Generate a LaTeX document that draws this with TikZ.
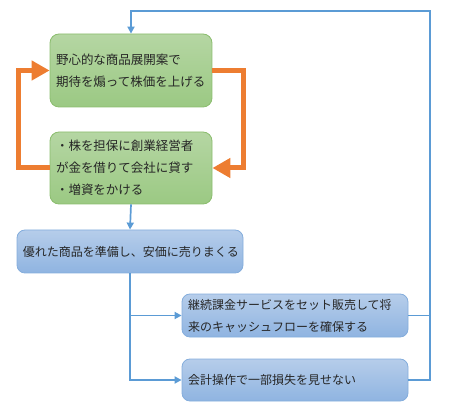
\documentclass[tikz,border=0pt]{standalone}
\usepackage{fontspec}
\setmainfont{Noto Sans CJK JP}
\usetikzlibrary{arrows.meta,shadings,positioning}
\definecolor{gtop}{HTML}{B5D6A3}
\definecolor{gbot}{HTML}{9BC983}
\definecolor{gbrd}{HTML}{8BBD6E}
\definecolor{btop}{HTML}{B6CDEA}
\definecolor{bbot}{HTML}{8FB4E1}
\definecolor{bbrd}{HTML}{84ADDC}
\definecolor{bline}{HTML}{5B9BD5}
\definecolor{oline}{HTML}{ED7D31}
\definecolor{txt}{HTML}{262626}
\tikzset{
  gbox/.style={draw=gbrd, line width=0.8pt, rounded corners=9pt, top color=gtop, bottom color=gbot,
    align=left, anchor=center, inner xsep=6pt, inner ysep=0pt, text=txt, font=\fontsize{12.5pt}{22pt}\selectfont},
  bbox/.style={draw=bbrd, line width=0.8pt, rounded corners=8pt, top color=btop, bottom color=bbot,
    align=left, anchor=center, inner xsep=6pt, inner ysep=0pt, text=txt, font=\fontsize{12pt}{22pt}\selectfont},
  bconn/.style={draw=bline, line width=1.7pt},
  barrow/.style={bconn, -{Triangle[length=7pt,width=7pt]}},
  oarrow/.style={draw=oline, line width=5pt, -{Triangle[length=18pt,width=19pt]}},
}
\begin{document}
\begin{tikzpicture}[x=1pt,y=1pt]
\useasboundingbox (0,0) rectangle (450,-414);
\node[gbox, minimum width=162pt, minimum height=73pt, text width=150pt] (b1) at (131,-70.5)
  {野心的な商品展開案で\\期待を煽って株価を上げる};
\node[gbox, minimum width=162pt, minimum height=72pt, text width=150pt] (b2) at (131,-168)
  {・株を担保に創業経営者\\が金を借りて会社に貸す\\・増資をかける};
\node[bbox, minimum width=226pt, minimum height=43pt, text width=214pt] (b3) at (130,-251.5)
  {優れた商品を準備し、安価に売りまくる};
\node[bbox, minimum width=226pt, minimum height=43pt, text width=214pt] (b4) at (295,-315.5)
  {継続課金サービスをセット販売して将\\来のキャッシュフローを確保する};
\node[bbox, minimum width=226pt, minimum height=42pt, text width=214pt] (b5) at (295,-380)
  {会計操作で一部損失を見せない};
\coordinate (r) at (430,-11);
% orange loop
\draw[oarrow] (b1.east) -- ++(31,0) |- (b2.east);
\draw[oarrow] (b2.west) -- ++(-31,0) |- (b1.west);
% blue connectors
\draw[barrow] (b2.south) -- (b3.north);
\draw[barrow] (b3.south) |- (b5.west);
\draw[barrow] (b3.south |- b4.west) -- (b4.west);
\draw[barrow] (b5.east) -| (r) -| (b1.north);
\draw[bconn] (b4.east) -- (b4.east -| r);
\end{tikzpicture}
\end{document}
